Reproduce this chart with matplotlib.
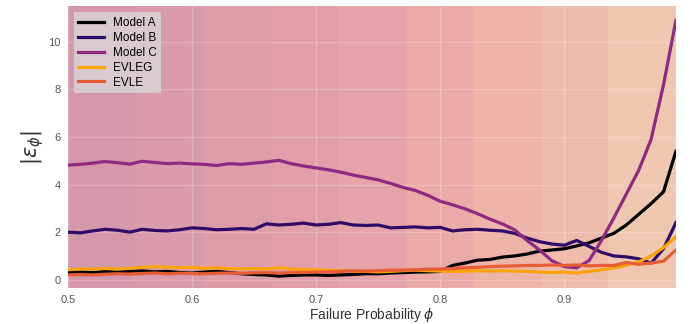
import matplotlib
matplotlib.use("Agg")
import matplotlib.pyplot as plt
import numpy as np

x = [0.50, 0.51, 0.52, 0.53, 0.54, 0.55, 0.56, 0.57, 0.58, 0.59,
     0.60, 0.61, 0.62, 0.63, 0.64, 0.65, 0.66, 0.67, 0.68, 0.69,
     0.70, 0.71, 0.72, 0.73, 0.74, 0.75, 0.76, 0.77, 0.78, 0.79,
     0.80, 0.81, 0.82, 0.83, 0.84, 0.85, 0.86, 0.87, 0.88, 0.89,
     0.90, 0.91, 0.92, 0.93, 0.94, 0.95, 0.96, 0.97, 0.98, 0.99]

model_a = [0.30, 0.32, 0.30, 0.35, 0.32, 0.35, 0.37, 0.33, 0.35, 0.30,
           0.28, 0.32, 0.35, 0.30, 0.25, 0.22, 0.20, 0.15, 0.18, 0.20,
           0.20, 0.18, 0.20, 0.22, 0.25, 0.25, 0.28, 0.30, 0.32, 0.33,
           0.35, 0.60, 0.70, 0.82, 0.85, 0.95, 1.00, 1.08, 1.20, 1.25,
           1.30, 1.42, 1.55, 1.75, 1.95, 2.30, 2.75, 3.20, 3.70, 5.40]

model_b = [2.00, 1.97, 2.05, 2.12, 2.08, 2.00, 2.12, 2.07, 2.05, 2.10,
           2.18, 2.15, 2.10, 2.12, 2.15, 2.12, 2.35, 2.30, 2.33, 2.38,
           2.30, 2.33, 2.40, 2.30, 2.28, 2.30, 2.18, 2.20, 2.22, 2.18,
           2.20, 2.05, 2.10, 2.12, 2.08, 2.05, 1.95, 1.75, 1.60, 1.50,
           1.45, 1.65, 1.40, 1.15, 1.00, 0.96, 0.88, 0.70, 1.30, 2.40]

model_c = [4.82, 4.85, 4.90, 4.97, 4.92, 4.86, 4.98, 4.93, 4.88, 4.90,
           4.87, 4.85, 4.80, 4.88, 4.85, 4.90, 4.95, 5.02, 4.88, 4.78,
           4.70, 4.62, 4.52, 4.40, 4.30, 4.20, 4.05, 3.88, 3.75, 3.55,
           3.30, 3.15, 2.98, 2.78, 2.55, 2.35, 2.10, 1.65, 1.25, 0.80,
           0.55, 0.50, 0.80, 1.65, 2.60, 3.60, 4.60, 5.90, 8.20, 10.90]

evleg = [0.42, 0.45, 0.44, 0.47, 0.45, 0.48, 0.52, 0.55, 0.53, 0.50,
         0.52, 0.48, 0.50, 0.47, 0.45, 0.47, 0.45, 0.50, 0.45, 0.42,
         0.42, 0.40, 0.38, 0.35, 0.35, 0.33, 0.35, 0.38, 0.40, 0.38,
         0.36, 0.35, 0.36, 0.38, 0.36, 0.38, 0.36, 0.35, 0.32, 0.30,
         0.32, 0.28, 0.35, 0.42, 0.50, 0.60, 0.75, 1.00, 1.35, 1.80]

evle = [0.20, 0.22, 0.20, 0.23, 0.25, 0.24, 0.26, 0.28, 0.25, 0.27,
        0.26, 0.25, 0.27, 0.28, 0.27, 0.29, 0.30, 0.28, 0.30, 0.30,
        0.32, 0.33, 0.35, 0.37, 0.36, 0.38, 0.40, 0.40, 0.42, 0.44,
        0.45, 0.47, 0.50, 0.52, 0.55, 0.57, 0.58, 0.60, 0.60, 0.62,
        0.60, 0.62, 0.58, 0.60, 0.60, 0.72, 0.65, 0.70, 0.78, 1.25]

series = [("Model A", model_a, "#000004"),
          ("Model B", model_b, "#2f0b68"),
          ("Model C", model_c, "#8e2a82"),
          ("EVLEG", evleg, "#fba40d"),
          ("EVLE", evle, "#e65d35")]

band_colors = ["#d598ab", "#da9bac", "#de9dab", "#e29faa", "#e6a3a9",
               "#eaaaa8", "#eeb3a9", "#efbcab", "#f0c7b1"]

xticks = [0.5, 0.6, 0.7, 0.8, 0.9]
yticks = [0, 2, 4, 6, 8, 10]

plt.rcParams["font.family"] = ["Liberation Sans", "DejaVu Sans"]
plt.rcParams["mathtext.fontset"] = "dejavusans"

fig = plt.figure(figsize=(6.99, 3.24), dpi=100)
ax = fig.add_axes([0.097, 0.111, 0.870, 0.870])

xmin, xmax = 0.5, 0.99
edges = np.linspace(xmin, xmax, len(band_colors) + 1)
for i, c in enumerate(band_colors):
    ax.axvspan(edges[i], edges[i + 1], color=c, lw=0, zorder=0)

for name, vals, col in series:
    ax.plot(x, vals, color=col, lw=2.3, label=name, zorder=3)

ax.set_xlim(xmin, xmax)
ax.set_ylim(-0.35, 11.5)
ax.set_xticks(xticks)
ax.set_yticks(yticks)
ax.grid(True, color="white", alpha=0.2, lw=1.0, zorder=1)
for s in ax.spines.values():
    s.set_visible(False)
ax.tick_params(length=0, labelsize=8, colors="#555555", pad=5)
ax.set_xlabel(r"Failure Probability $\phi$", fontsize=10, color="#333333", labelpad=1)
ax.set_ylabel(r"$|\epsilon_\phi|$", fontsize=15, color="#333333", labelpad=2)

leg = ax.legend(loc="upper left", fontsize=8.5, frameon=True, handlelength=2.2,
                borderpad=0.4, labelspacing=0.25, handletextpad=0.7)
leg.get_frame().set_facecolor("#d9d0d2")
leg.get_frame().set_edgecolor("none")
leg.get_frame().set_alpha(0.9)
leg.set_zorder(5)

fig.savefig("out.png", dpi=100)
